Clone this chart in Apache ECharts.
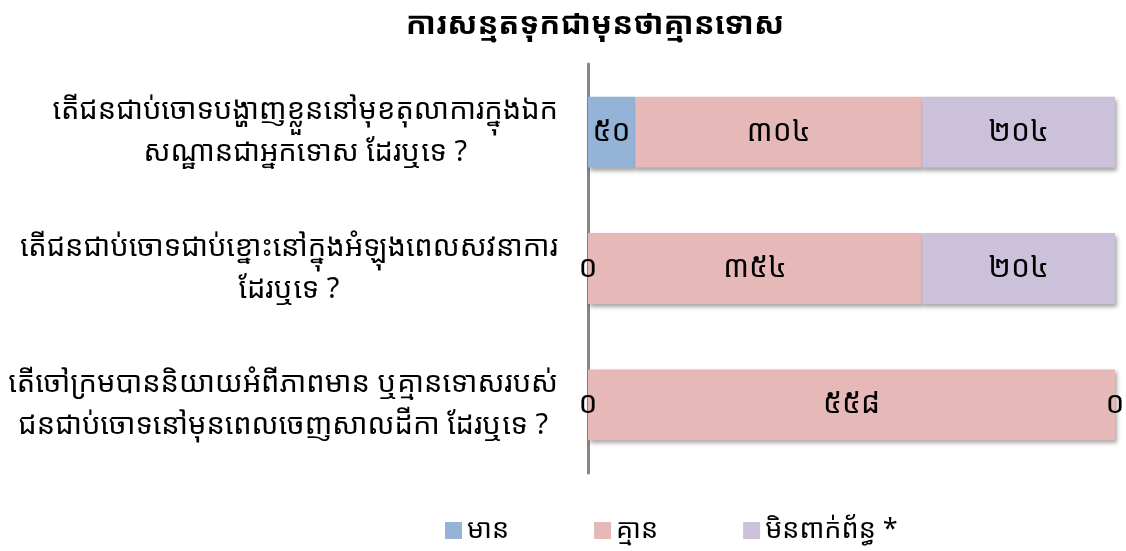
<!DOCTYPE html>
<html><head><meta charset="utf-8">
<script src="https://cdn.jsdelivr.net/npm/echarts@6/dist/echarts.min.js"></script>
<style>html,body{margin:0;padding:0;background:#fff}#c{width:1126px;height:551px}</style>
</head><body><div id="c"></div>
<script>
const title = 'ការសន្មតទុកជាមុនថាគ្មានទោស';
const categories = [
  'តើជនជាប់ចោទបង្ហាញខ្លួននៅមុខតុលាការក្នុងឯក\nសណ្ឋានជាអ្នកទោស ដែរឬទេ ?',
  'តើជនជាប់ចោទជាប់ខ្នោះនៅក្នុងអំឡុងពេលសវនាការ\nដែរឬទេ ?',
  'តើចៅក្រមបាននិយាយអំពីភាពមាន ឬគ្មានទោសរបស់\nជនជាប់ចោទនៅមុនពេលចេញសាលដីកា ដែរឬទេ ?'
];
const seriesNames = ['មាន', 'គ្មាន', 'មិនពាក់ព័ន្ធ *'];
const yesValues = [50, 0, 0];
const noValues = [304, 354, 558];
const naValues = [204, 204, 0];
const colors = ['#95B3D7', '#E6B9B8', '#CCC1DA'];
const khmerDigits = ['០','១','២','៣','៤','៥','៦','៧','៨','៩'];
const FONT = "'Noto Sans Khmer','Khmer OS','Noto Sans', sans-serif";
function toKhmer(n){ return String(n).replace(/[0-9]/g, d => khmerDigits[+d]); }

const chart = echarts.init(document.getElementById('c'));
const mk = (name, data, color) => ({
  name, type: 'bar', stack: 'total', data, barWidth: '52%',
  itemStyle: { color, shadowColor: 'rgba(0,0,0,0.35)', shadowBlur: 4, shadowOffsetX: 2, shadowOffsetY: 3 },
  label: { show: true, position: 'inside', color: '#000', fontSize: 30, fontFamily: FONT,
    formatter: p => toKhmer(p.value) }
});
chart.setOption({
  animation: false,
  title: { text: title, left: 590, textAlign: 'center', top: 5, textStyle: { fontSize: 31, fontWeight: 'bold', color: '#000', fontFamily: FONT } },
  legend: { bottom: 2, left: 440, itemWidth: 17, itemHeight: 17, itemGap: 85, icon: 'rect',
    textStyle: { fontSize: 27, color: '#000', fontFamily: FONT } },
  grid: { left: 588, right: 11, top: 64, bottom: 78, containLabel: false },
  xAxis: { type: 'value', min: 0, max: 558, show: false },
  yAxis: { type: 'category', data: categories, inverse: true,
    axisLine: { show: true, lineStyle: { color: '#868686', width: 3 } },
    axisTick: { show: false }, splitLine: { show: false },
    axisLabel: { margin: 30, align: 'right', color: '#000', fontSize: 29, fontFamily: FONT, lineHeight: 42,
      formatter: v => v.split('\n').map(s => '{a|' + s + '}').join('\n'),
      rich: { a: { align: 'center', fontSize: 29, lineHeight: 42, fontFamily: FONT, color: '#000' } } } },
  series: [mk(seriesNames[0], yesValues, colors[0]), mk(seriesNames[1], noValues, colors[1]), mk(seriesNames[2], naValues, colors[2])]
});
</script></body></html>
